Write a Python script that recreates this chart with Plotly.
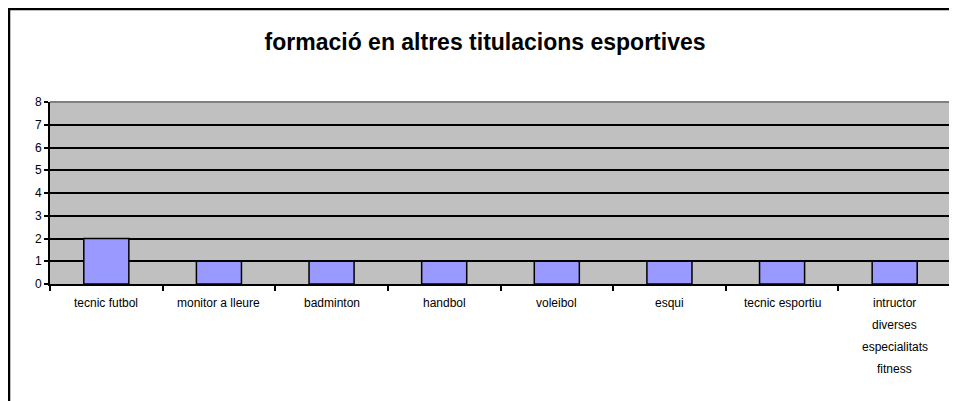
import plotly.graph_objects as go

categories = [
    "tecnic futbol",
    "monitor a lleure",
    "badminton",
    "handbol",
    "voleibol",
    "esqui",
    "tecnic esportiu",
    "intructor\ndiverses\nespecialitats\nfitness",
]
values = [2, 1, 1, 1, 1, 1, 1, 1]
y_ticks = [0, 1, 2, 3, 4, 5, 6, 7, 8]
title_text = "formació en altres titulacions esportives"

FONT = "Liberation Sans, Arial, sans-serif"

fig = go.Figure(go.Bar(
    x=list(range(len(categories))),
    y=values,
    marker=dict(color="#9999FF", line=dict(color="#000000", width=1.5)),
    hoverinfo="y",
))

# category labels, one annotation per line so line spacing matches
for i, label in enumerate(categories):
    for j, line in enumerate(label.split("\n")):
        fig.add_annotation(
            x=i, y=0, xref="x", yref="y",
            text=line, showarrow=False,
            xanchor="center", yanchor="middle",
            yshift=-19 - 22 * j,
            font=dict(family=FONT, size=12, color="#000000"),
        )

# outer chart frame
fig.add_shape(
    type="rect", xref="paper", yref="paper",
    x0=-0.0455, x1=1.2, y0=-2.0, y1=1.511,
    line=dict(color="#000000", width=2.5), fillcolor="rgba(0,0,0,0)",
    layer="below",
)
# plot area border (top and right in grey)
fig.add_shape(type="line", xref="paper", yref="paper", x0=0, x1=1, y0=1, y1=1,
              line=dict(color="#808080", width=2), layer="above")
fig.add_shape(type="line", xref="paper", yref="paper", x0=1, x1=1, y0=0, y1=1,
              line=dict(color="#808080", width=2), layer="above")

fig.update_layout(
    width=957, height=401,
    paper_bgcolor="#FFFFFF",
    plot_bgcolor="#C0C0C0",
    margin=dict(l=42, r=14, t=94, b=125),
    bargap=0.6,
    showlegend=False,
    font=dict(family=FONT, size=11, color="#000000"),
    title=dict(
        text=f"<b>{title_text}</b>",
        x=0.4985, xanchor="center", y=0.915, yanchor="middle",
        font=dict(family=FONT, size=23, color="#000000"),
    ),
    xaxis=dict(
        type="linear",
        range=[-0.5, len(categories) - 0.5],
        tickvals=[k - 0.5 for k in range(len(categories) + 1)],
        showticklabels=False,
        ticks="outside", ticklen=5, tickwidth=1.5, tickcolor="#000000",
        showgrid=False, zeroline=False,
        showline=True, linecolor="#000000", linewidth=2,
        fixedrange=True,
    ),
    yaxis=dict(
        range=[0, 8],
        tickvals=y_ticks,
        ticks="outside", ticklen=4, tickwidth=1.5, tickcolor="#000000",
        tickfont=dict(family=FONT, size=12, color="#000000"),
        showgrid=True, gridcolor="#000000", gridwidth=1.5,
        zeroline=False,
        showline=True, linecolor="#000000", linewidth=2,
        fixedrange=True,
    ),
)

fig.write_html("out.html")
